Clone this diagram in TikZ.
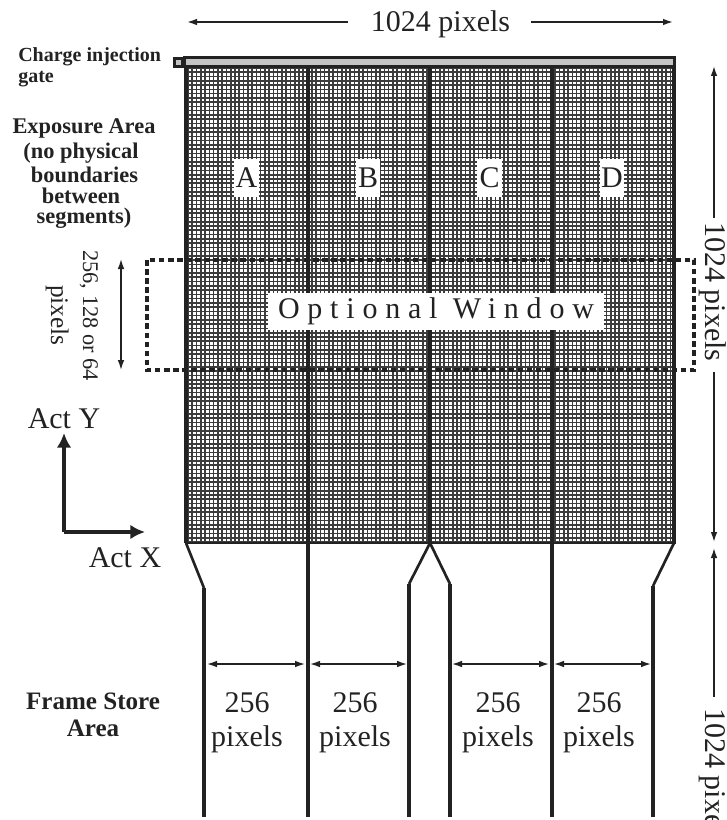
\documentclass[tikz,border=0pt]{standalone}
\usepackage{fontspec}
\setmainfont{Liberation Serif}
\usetikzlibrary{arrows.meta}
\definecolor{ink}{HTML}{222222}
\definecolor{gridink}{HTML}{3C3C3C}
\definecolor{gatefill}{HTML}{C4C4C4}
\newfontfamily\spacedfont[LetterSpace=26]{Liberation Serif}
\tikzset{
  every node/.style={text=ink,inner sep=0pt},
  reg/.style={font=\fontsize{22.5}{24}\selectfont,anchor=base},
  rotreg/.style={reg,rotate=-90,anchor=base west},
  bold/.style={font=\fontsize{16.8}{18}\bfseries\selectfont,anchor=base},
  gridline/.style={draw=gridink,line width=1.2pt},
  wall/.style={draw=ink,line width=3pt},
  lead/.style={draw=ink,line width=2pt},
  dim/.style={draw=ink,line width=1.1pt,{Latex[length=7.5pt,width=5pt]}-{Latex[length=7.5pt,width=5pt]}},
  dimone/.style={draw=ink,line width=1.2pt,-{Latex[length=7.5pt,width=5pt]}},
  axis/.style={draw=ink,line width=3.2pt,-{Latex[length=11pt,width=11pt]}},
  windowbox/.style={draw=ink,line width=2.3pt,dash pattern=on 4.2pt off 2.6pt},
  letterbox/.style={fill=white,minimum width=18.5pt,minimum height=28.5pt,font=\fontsize{22.5}{24}\selectfont},
}
\begin{document}
\begin{tikzpicture}[x=0.75pt,y=-0.75pt]
\clip (0,0) rectangle (727,820);
% grid
\foreach \i in {0,...,114} {\draw[gridline] ({188+\i*4.27},66) -- ({188+\i*4.27},543);}
\foreach \j in {0,...,111} {\draw[gridline] (186,{68+\j*4.27}) -- (675,{68+\j*4.27});}
% named points
\coordinate (tl) at (186,66);
\coordinate (tr) at (674,66);
\coordinate (bl) at (186,543);
\coordinate (br) at (674,543);
\coordinate (bt) at (308,66);
\coordinate (bb) at (308,817);
\coordinate (ct) at (430,66);
\coordinate (cb) at (430,543);
\coordinate (dt) at (552,66);
\coordinate (db) at (552,817);
\coordinate (la) at (204,588);
\coordinate (lb) at (204,817);
\coordinate (m1a) at (409,584);
\coordinate (m1b) at (409,817);
\coordinate (m2a) at (450,584);
\coordinate (m2b) at (450,817);
\coordinate (ra) at (653,586);
\coordinate (rb) at (653,817);
% walls
\draw[wall] (tl) -- (bl);
\draw[wall] (tr) -- (br);
\draw[wall,line width=2.2pt] (184.5,543) -- (675.5,543);
\draw[wall] (bt) -- (bb);
\draw[wall] (ct) -- (cb);
\draw[wall] (dt) -- (db);
\draw[lead] (bl) -- (la);
\draw[wall] (la) -- (lb);
\draw[lead] (cb) -- (m1a);
\draw[wall] (m1a) -- (m1b);
\draw[lead] (cb) -- (m2a);
\draw[wall] (m2a) -- (m2b);
\draw[lead] (br) -- (ra);
\draw[wall] (ra) -- (rb);
% gate
\node[draw=ink,fill=gatefill,line width=2.2pt,minimum width=368pt,minimum height=6.5pt,anchor=center] (gate) at (429.5,62) {};
\node[draw=ink,fill=gatefill,line width=2.2pt,minimum width=6.5pt,minimum height=6.5pt] (gatepad) at (178.5,62.5) {};
% window
\draw[windowbox] (147,260) rectangle (694,370);
% letters
\node[letterbox] (A) at (246.5,178) {A};
\node[letterbox] (B) at (368,178) {B};
\node[letterbox] (C) at (489.5,178) {C};
\node[letterbox] (D) at (612,178) {D};
\node[fill=white,minimum width=252pt,minimum height=28pt,font=\fontsize{22.5}{24}\spacedfont] (win) at (436,311.5) {Optional Window};
% top dimension
\node[reg] (toplabel) at (440.5,32) {1024 pixels};
\coordinate (t1) at (348,22);
\coordinate (t2) at (187,22);
\coordinate (t3) at (531,22);
\coordinate (t4) at (673,22);
\draw[dimone] (t1) -- (t2);
\draw[dimone] (t3) -- (t4);
% right dimensions
\node[rotreg] (r1) at (705.5,222) {1024 pixels};
\node[rotreg] (r2) at (705.5,708) {1024 pixels};
\coordinate (v1) at (714,218);
\coordinate (v2) at (714,66);
\coordinate (v3) at (714,372);
\coordinate (v4) at (714,542);
\coordinate (v5) at (714,697);
\coordinate (v6) at (714,548);
\draw[dimone] (v1) -- (v2);
\draw[dimone] (v3) -- (v4);
\draw[dimone] (v5) -- (v6);
% window dimension
\coordinate (w1) at (121,259);
\coordinate (w2) at (121,370);
\draw[dim] (w1) -- (w2);
\node[rotate=-90,anchor=base west,font=\fontsize{16.8}{18}\selectfont] (wl) at (83,250) {256, 128 or 64};
\node[rotate=-90,anchor=base west,font=\fontsize{19}{20}\selectfont] (wp) at (51,285) {pixels};
% axes
\coordinate (o) at (64,532);
\coordinate (ay) at (64,433);
\coordinate (ax) at (145,532);
\draw[axis] (o) -- (ay);
\draw[axis] (o) -- (ax);
\node[reg] (acty) at (64,428) {Act Y};
\node[reg] (actx) at (125,567) {Act X};
% left labels
\node[bold,font=\fontsize{15}{16}\bfseries\selectfont,anchor=base west] (cg1) at (18,62) {Charge injection};
\node[bold,font=\fontsize{15}{16}\bfseries\selectfont,anchor=base west] (cg2) at (18,83) {gate};
\node[bold] (e1) at (84,133) {Exposure Area};
\node[bold] (e2) at (81,158) {(no physical};
\node[bold] (e3) at (84.5,182) {boundaries};
\node[bold] (e4) at (81,203) {between};
\node[bold] (e5) at (84,223) {segments)};
\node[bold,font=\fontsize{18.8}{20}\bfseries\selectfont] (f1) at (93,709) {Frame Store};
\node[bold,font=\fontsize{18.8}{20}\bfseries\selectfont] (f2) at (93,736) {Area};
% frame-store dimensions
\coordinate (h1) at (207,664);
\coordinate (h2) at (305,664);
\coordinate (h3) at (310,664);
\coordinate (h4) at (407,664);
\coordinate (h5) at (452,664);
\coordinate (h6) at (549,664);
\coordinate (h7) at (554,664);
\coordinate (h8) at (651,664);
\draw[dim] (h1) -- (h2);
\draw[dim] (h3) -- (h4);
\draw[dim] (h5) -- (h6);
\draw[dim] (h7) -- (h8);
\node[reg] (n1) at (247,712) {256};
\node[reg] (p1) at (247,746) {pixels};
\node[reg] (n2) at (355,712) {256};
\node[reg] (p2) at (355,746) {pixels};
\node[reg] (n3) at (498,712) {256};
\node[reg] (p3) at (498,746) {pixels};
\node[reg] (n4) at (599,712) {256};
\node[reg] (p4) at (599,746) {pixels};
\end{tikzpicture}
\end{document}
